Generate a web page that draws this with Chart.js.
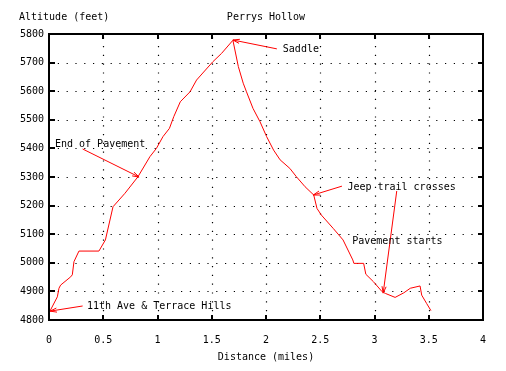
<!DOCTYPE html>
<html>
<head>
<meta charset="utf-8">
<script src="https://cdn.jsdelivr.net/npm/chart.js@4"></script>
<style>
  html, body { margin: 0; padding: 0; background: #fff; }
  #wrap { width: 506px; height: 371px; }
</style>
</head>
<body>
<div id="wrap"><canvas id="profile"></canvas></div>
<script>
// Trail profile data
const distance = [0.01, 0.077, 0.092, 0.107, 0.2, 0.215, 0.23, 0.276, 0.46, 0.52, 0.59, 0.70, 0.82,
  0.93, 0.99, 1.05, 1.11, 1.15, 1.21, 1.30, 1.36, 1.51, 1.59, 1.695, 1.745, 1.79, 1.82, 1.88,
  1.945, 2.006, 2.07, 2.13, 2.22, 2.28, 2.36, 2.44, 2.47, 2.51, 2.62, 2.71, 2.80, 2.81, 2.90,
  2.92, 2.99, 3.07, 3.10, 3.19, 3.27, 3.33, 3.42, 3.435, 3.48, 3.52];
const altitude = [4832, 4881, 4911, 4922, 4951, 4958, 5004, 5041, 5041, 5080, 5196, 5243, 5301,
  5371, 5400, 5441, 5470, 5511, 5563, 5598, 5639, 5703, 5732, 5778, 5686, 5628, 5598, 5540,
  5493, 5441, 5394, 5360, 5330, 5301, 5266, 5237, 5190, 5167, 5120, 5080, 5010, 4998, 4998,
  4960, 4934, 4899, 4893, 4879, 4895, 4911, 4919, 4887, 4858, 4833];

const xTicks = [0, 0.5, 1, 1.5, 2, 2.5, 3, 3.5, 4];
const yTicks = [4800, 4900, 5000, 5100, 5200, 5300, 5400, 5500, 5600, 5700, 5800];

// Labels and arrows (data units)
const noteText = ["Saddle", "End of Pavement", "Jeep trail crosses", "Pavement starts", "11th Ave & Terrace Hills"];
const noteX = [2.155, 0.055, 2.75, 2.795, 0.35];
const noteY = [5745, 5415, 5265, 5076, 4849];
const arrowFromX = [2.10, 0.31, 2.70, 3.205, 0.31];
const arrowFromY = [5748, 5398, 5268, 5251, 4849];
const arrowToX = [1.695, 0.83, 2.435, 3.08, 0.01];
const arrowToY = [5779, 5300, 5237, 4894, 4831];

const FONT = '10px "DejaVu Sans Mono"';

function drawArrow(ctx, x1, y1, x2, y2) {
  const ang = Math.atan2(y2 - y1, x2 - x1);
  const len = 7, spread = 0.3;
  ctx.beginPath();
  ctx.moveTo(x1, y1);
  ctx.lineTo(x2, y2);
  ctx.moveTo(x2 - len * Math.cos(ang - spread), y2 - len * Math.sin(ang - spread));
  ctx.lineTo(x2, y2);
  ctx.lineTo(x2 - len * Math.cos(ang + spread), y2 - len * Math.sin(ang + spread));
  ctx.stroke();
}

const gnuplotFrame = {
  id: 'gnuplotFrame',
  beforeDatasetsDraw(chart) {
    const { ctx, chartArea: a, scales: { x, y } } = chart;
    ctx.save();
    ctx.strokeStyle = '#000';
    ctx.lineWidth = 1.2;
    ctx.setLineDash([1.2, 7.6]);
    xTicks.slice(1, -1).forEach(v => {
      const px = Math.round(x.getPixelForValue(v)) + 0.5;
      ctx.beginPath();
      ctx.moveTo(px, a.bottom);
      ctx.lineTo(px, a.top);
      ctx.stroke();
    });
    yTicks.slice(1, -1).forEach(v => {
      const py = Math.round(y.getPixelForValue(v)) + 0.5;
      ctx.beginPath();
      ctx.moveTo(a.left, py);
      ctx.lineTo(a.right, py);
      ctx.stroke();
    });
    ctx.restore();
  },
  afterDatasetsDraw(chart) {
    const { ctx, chartArea: a, scales: { x, y } } = chart;
    ctx.save();
    // border + mirrored ticks
    ctx.strokeStyle = '#000';
    ctx.lineWidth = 2;
    ctx.strokeRect(a.left, a.top, a.right - a.left, a.bottom - a.top);
    ctx.beginPath();
    xTicks.forEach(v => {
      const px = Math.round(x.getPixelForValue(v));
      ctx.moveTo(px, a.bottom); ctx.lineTo(px, a.bottom - 5);
      ctx.moveTo(px, a.top); ctx.lineTo(px, a.top + 5);
    });
    yTicks.forEach(v => {
      const py = Math.round(y.getPixelForValue(v));
      ctx.moveTo(a.left, py); ctx.lineTo(a.left + 6, py);
      ctx.moveTo(a.right, py); ctx.lineTo(a.right - 5, py);
    });
    ctx.stroke();

    // annotations
    ctx.strokeStyle = '#ff0000';
    ctx.lineWidth = 1;
    noteText.forEach((t, i) => {
      drawArrow(ctx,
        x.getPixelForValue(arrowFromX[i]), y.getPixelForValue(arrowFromY[i]),
        x.getPixelForValue(arrowToX[i]), y.getPixelForValue(arrowToY[i]));
    });
    ctx.fillStyle = '#000';
    ctx.font = FONT;
    ctx.textBaseline = 'middle';
    ctx.textAlign = 'left';
    noteText.forEach((t, i) => {
      ctx.fillText(t, x.getPixelForValue(noteX[i]), y.getPixelForValue(noteY[i]));
    });

    // top texts
    ctx.fillText('Altitude (feet)', 19, 17);
    ctx.textAlign = 'center';
    ctx.fillText('Perrys Hollow', (a.left + a.right) / 2, 17);
    ctx.restore();
  }
};

new Chart(document.getElementById('profile'), {
  type: 'line',
  data: {
    datasets: [{
      data: distance.map((d, i) => ({ x: d, y: altitude[i] })),
      borderColor: '#ff0000',
      borderWidth: 1,
      pointRadius: 0,
      tension: 0,
      fill: false
    }]
  },
  options: {
    responsive: true,
    maintainAspectRatio: false,
    animation: false,
    events: [],
    layout: { padding: { top: 34, right: 23, left: 0, bottom: 0 } },
    plugins: { legend: { display: false }, tooltip: { enabled: false } },
    scales: {
      x: {
        type: 'linear',
        min: 0, max: 4,
        afterFit: s => { s.height = 51; },
        afterBuildTicks: s => { s.ticks = xTicks.map(v => ({ value: v })); },
        grid: { display: false, drawTicks: false },
        border: { display: false },
        ticks: { color: '#000', font: { family: 'DejaVu Sans Mono', size: 10 }, padding: 14, maxRotation: 0,
          callback: v => String(v) },
        title: { display: true, text: 'Distance (miles)', color: '#000',
          font: { family: 'DejaVu Sans Mono', size: 10 }, padding: { top: 0, bottom: 8 } }
      },
      y: {
        min: 4800, max: 5800,
        afterFit: s => { s.width = 49; },
        afterBuildTicks: s => { s.ticks = yTicks.map(v => ({ value: v })); },
        grid: { display: false, drawTicks: false },
        border: { display: false },
        ticks: { color: '#000', font: { family: 'DejaVu Sans Mono', size: 10 }, padding: 5,
          callback: v => String(v) }
      }
    }
  },
  plugins: [gnuplotFrame]
});
</script>
</body>
</html>
